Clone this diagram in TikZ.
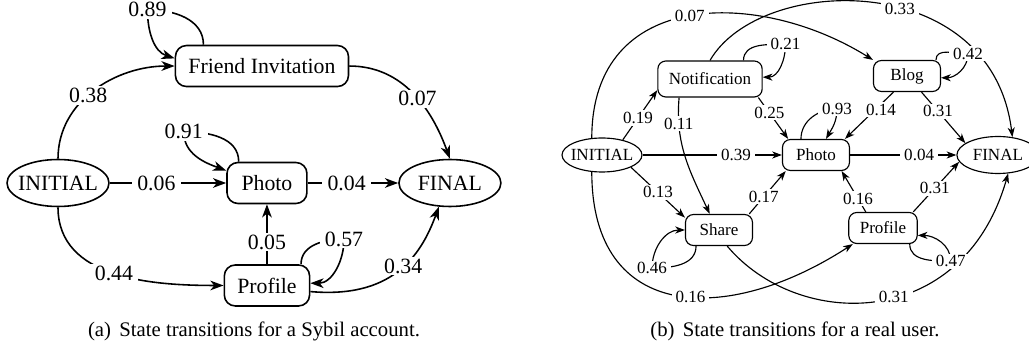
\documentclass[tikz,border=0pt]{standalone}
\usepackage{fontspec}
\setmainfont{Liberation Serif}
\usetikzlibrary{arrows.meta,shapes.geometric}

\begin{document}
\begin{tikzpicture}[x=0.02cm, y=-0.02cm, node distance=2cm,
    box node/.style={draw, rounded corners=0.22cm, minimum width=1.6cm, minimum height=0.82cm, inner xsep=0.26cm},
    end node/.style={draw, ellipse, inner xsep=-0.1cm, inner ysep=0.1cm, minimum width=2.04cm, minimum height=0.94cm},
    small box/.style={draw, rounded corners=0.16cm, minimum width=1.34cm, minimum height=0.62cm, inner xsep=0.22cm},
    small end/.style={draw, ellipse, inner xsep=-0.1cm, inner ysep=0.05cm, minimum width=1.6cm, minimum height=0.68cm},
    lbl/.style={fill=white, inner xsep=3pt, inner ysep=1pt}]

  \useasboundingbox (0,0) rectangle (1029,347);

  % (a) Sybil account
  \begin{scope}[font=\fontsize{12.4}{15}\selectfont, line width=0.9pt,
                >={Stealth[length=7.5pt,width=5.5pt,inset=2.2pt]}]
  \node[end node] (1) at (58,183) {INITIAL};
  \node[box node] (3) [right of=1, node distance=4.18cm] {Photo};
  \node[end node] (5) [right of=3, node distance=3.66cm] {FINAL};
  \node[box node] (2) [above of=3, node distance=2.34cm, xshift=-0.1cm] {Friend Invitation};
  \node[box node] (4) [below of=3, node distance=2.05cm] {Profile};

  \path[->, every node/.style={lbl}]
    (1.north) edge[out=90,in=180] node[pos=0.45] {0.38} (2.west)
    (2.east) edge[out=0,in=110] node[pos=0.55] {0.07} (5.north)
    (1) edge node[pos=0.4] {0.06} (3)
    (3) edge node[pos=0.43] {0.04} (5)
    (4) edge node[pos=0.37] {0.05} (3)
    (1.south) edge[out=-90,in=180] node {0.44} (4.west)
    (4.-8) edge[out=-5,in=-110,out distance=1.6cm,in distance=1.1cm] node[pos=0.55] {0.34} (5.-115)
  ;

  \draw[->] (2.160) to[out=90,in=0] ++(-56,-35) node[lbl] {0.89} to[out=-90,in=162] (2.175);
  \draw[->] (3.143) to[out=90,in=0] ++(-55,-30) node[lbl] {0.91} to[out=-90,in=160] (3.163);
  \draw[->] (4.32) to[out=90,in=180] ++(43,-25) node[lbl] {0.57} to[out=-90,in=0] (4.3);
  \end{scope}

  % (b) real user
  \begin{scope}[font=\fontsize{9.7}{12}\selectfont, line width=0.65pt,
                lbl/.append style={inner xsep=2.2pt},
                >={Stealth[length=5.5pt,width=4pt,inset=1.6pt]}]
  \node[small end] (11) at (602,155) {INITIAL};
  \node[small box, minimum height=0.72cm] (12) at (710,79) {Notification};
  \node[small box] (13) at (907,76) {Blog};
  \node[small box] (14) [right of=11, node distance=4.28cm] {Photo};
  \node[small end, minimum width=1.64cm, minimum height=0.74cm] (17) [right of=14, node distance=3.64cm] {FINAL};
  \node[small box] (15) at (719,230) {Share};
  \node[small box] (16) at (883,228) {Profile};

  \path[->, every node/.style={lbl}]
    (11.121) edge[out=90,in=148,out distance=3cm,in distance=2.68cm] node {0.07} (13.north west)
    (12.north) edge[out=60,in=97,out distance=2cm,in distance=3.4cm] node[pos=0.57] {0.33} (17.51)
    (11.36) edge node[pos=0.44] {0.19} (12.192)
    (12.-149) edge[out=-95,in=115] node[pos=0.2] {0.11} (15.120)
    (12.-21) edge node[pos=0.37] {0.25} (14.150)
    (11) edge node[pos=0.67] {0.39} (14)
    (13.230) edge node[pos=0.38, xshift=0.12cm] {0.14} (14.29)
    (13.-48) edge node[pos=0.375] {0.31} (17.160)
    (14) edge node[pos=0.65] {0.04} (17)
    (11.-23) edge node {0.13} (15.160)
    (15.28) edge node[pos=0.4] {0.17} (14.-152)
    (11.-121) edge[out=-90,in=-147,out distance=3cm,in distance=3cm] node[pos=0.55] {0.16} (16.-152)
    (15.-63) edge[out=-50,in=-106,out distance=2.2cm,in distance=3.3cm] node[pos=0.55] {0.31} (17.-61)
    (16.137) edge node[pos=0.32] {0.16} (14.-32)
    (16.28) edge node[pos=0.47] {0.31} (17.-170)
  ;

  \draw[->] (12.29) to[out=90,in=180] ++(42,-16) node[lbl] {0.21} to[out=-90,in=0] (12.2);
  \draw[->] (14.133) to[out=90,in=180] ++(36,-30) node[lbl] {0.93} to[out=-90,in=60] (14.58);
  \draw[->] (13.29) to[out=90,in=180] ++(32,-6) node[lbl] {0.42} to[out=-90,in=0] (13.-3);
  \draw[->] (15.215) to[out=-90,in=0] ++(-44,22) node[lbl] {0.46} to[out=90,in=180] (15.west);
  \draw[->] (16.-31) to[out=-90,in=180] ++(41,17) node[lbl] {0.47} to[out=90,in=0] (16.-12);
  \end{scope}

  % captions
  \node[font=\fontsize{11.8}{14}\selectfont] (capa) at (254,331) {(a)\hspace{0.4em}State transitions for a Sybil account.};
  \node[font=\fontsize{11.8}{14}\selectfont] (capb) at (795,331) {(b)\hspace{0.4em}State transitions for a real user.};

\end{tikzpicture}
\end{document}
